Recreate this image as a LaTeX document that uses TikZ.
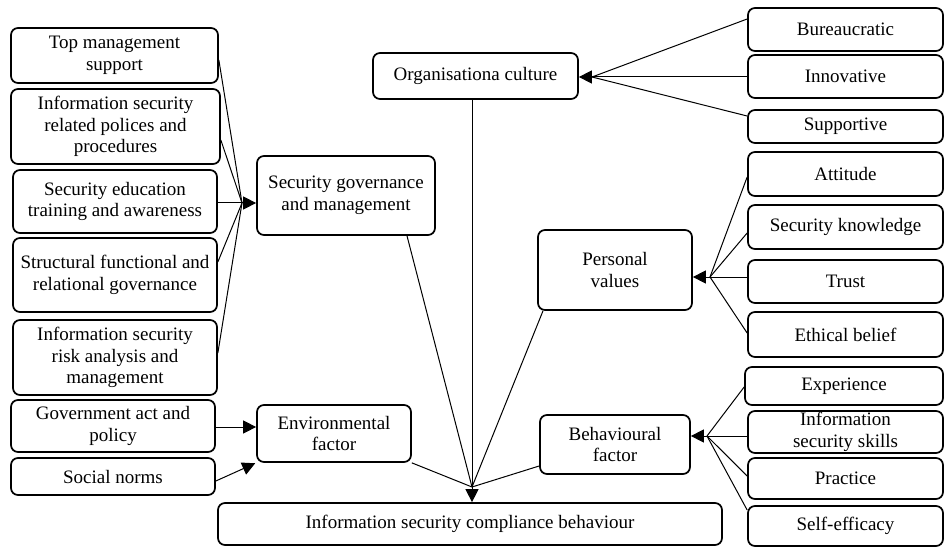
\documentclass[tikz,border=0pt]{standalone}
\usepackage{fontspec}
\setmainfont{Liberation Serif}
\usetikzlibrary{arrows.meta}
\tikzset{
  box/.style={draw, line width=1.7pt, rounded corners=7pt, align=center, inner sep=0pt,
    font=\fontsize{19}{21.5}\selectfont},
  conn/.style={line width=1pt},
  arr/.style={line width=1pt, -{Triangle[length=13pt,width=13pt]}}
}
\begin{document}
\begin{tikzpicture}[x=1pt,y=-1pt]
\useasboundingbox (0,0) rectangle (945,548);
% left column
\node[box, minimum width=207pt, minimum height=55pt] (tm) at (114.5,55.5) {Top management\\support};
\node[box, minimum width=209pt, minimum height=75pt] (pol) at (115.5,126.5) {Information security\\related polices and\\procedures};
\node[box, minimum width=204pt, minimum height=63pt] (edu) at (115,201.5) {Security education\\training and awareness};
\node[box, minimum width=204pt, minimum height=74pt] (str) at (115,275) {Structural functional and\\relational governance};
\node[box, minimum width=204pt, minimum height=75pt] (risk) at (115,357.5) {Information security\\risk analysis and\\management};
\node[box, minimum width=204pt, minimum height=52pt] (gov) at (113,426) {Government act and\\policy};
\node[box, minimum width=204pt, minimum height=37pt] (soc) at (113,476.5) {Social norms};
% middle
\node[box, minimum width=178pt, minimum height=79pt] (sgm) at (346,195.5) {Security governance\\and management};
\node[box, minimum width=205pt, minimum height=46pt] (org) at (475.5,76) {Organisationa culture};
\node[box, minimum width=154pt, minimum height=57pt] (env) at (334,433.5) {Environmental\\factor};
\node[box, minimum width=154pt, minimum height=80pt] (pv) at (615,270) {Personal\\values};
\node[box, minimum width=150pt, minimum height=59pt] (bf) at (615,444.5) {Behavioural\\factor};
\node[box, minimum width=504pt, minimum height=42pt] (comp) at (470,524) {Information security compliance behaviour};
% right column
\node[box, minimum width=195pt, minimum height=43pt] (bur) at (845.5,29.5) {Bureaucratic};
\node[box, minimum width=195pt, minimum height=43pt] (inn) at (845.5,76.5) {Innovative};
\node[box, minimum width=195pt, minimum height=33pt] (sup) at (845.5,126.5) {Supportive};
\node[box, minimum width=195pt, minimum height=44pt] (att) at (845.5,174) {Attitude};
\node[box, minimum width=195pt, minimum height=44pt] (sk) at (845.5,227) {Security knowledge};
\node[box, minimum width=195pt, minimum height=43pt] (tru) at (845.5,281.5) {Trust};
\node[box, minimum width=195pt, minimum height=45pt] (eth) at (845.5,334.5) {Ethical belief};
\node[box, minimum width=198pt, minimum height=38pt] (exp) at (844,386) {Experience};
\node[box, minimum width=195pt, minimum height=42pt] (iss) at (845.5,432) {Information\\security skills};
\node[box, minimum width=195pt, minimum height=41pt] (pra) at (845.5,478.5) {Practice};
\node[box, minimum width=195pt, minimum height=40pt] (self) at (845.5,526) {Self-efficacy};
% junctions
\coordinate (jL) at (242,203);
\coordinate (jO) at (592,77);
\coordinate (jP) at (710,277);
\coordinate (jB) at (707,436);
\coordinate (jC) at (472,487);
% left fan
\draw[conn] (tm.east |- 0,60) -- (jL);
\draw[conn] (pol.east |- 0,140) -- (jL);
\draw[conn] (edu.east |- jL) -- (jL);
\draw[conn] (str.east |- 0,262) -- (jL);
\draw[conn] (risk.east |- 0,353) -- (jL);
\draw[arr] (jL) -- (sgm.west |- jL);
% organisational culture fan
\draw[conn] (bur.west |- 0,19) -- (jO);
\draw[conn] (inn.west |- jO) -- (jO);
\draw[conn] (sup.west |- 0,116) -- (jO);
\draw[arr] (jO) -- (org.east |- jO);
% personal values fan
\draw[conn] (att.west |- 0,177) -- (jP);
\draw[conn] (sk.west |- 0,233) -- (jP);
\draw[conn] (tru.west |- jP) -- (jP);
\draw[conn] (eth.west |- 0,333) -- (jP);
\draw[arr] (jP) -- (pv.east |- jP);
% behavioural fan
\draw[conn] (exp.west |- 0,387) -- (jB);
\draw[conn] (iss.west |- jB) -- (jB);
\draw[conn] (pra.west |- 0,476) -- (jB);
\draw[conn] (self.west |- 0,510) -- (jB);
\draw[arr] (jB) -- (bf.east |- jB);
% environmental
\draw[arr] (gov.east |- 0,427) -- (env.west |- 0,427);
\draw[arr, shorten >=1pt] (soc.east |- 0,481) -- (env.south west);
% central
\draw[conn] (sgm.south -| 407,0) -- (jC);
\draw[conn] (jC |- org.south) -- (jC);
\draw[conn] (pv.south -| 543,0) -- (jC);
\draw[conn] (env.south east) -- (jC);
\draw[conn] (bf.west |- 0,466) -- (jC);
\draw[arr] (jC) -- (jC |- comp.north);
\end{tikzpicture}
\end{document}
